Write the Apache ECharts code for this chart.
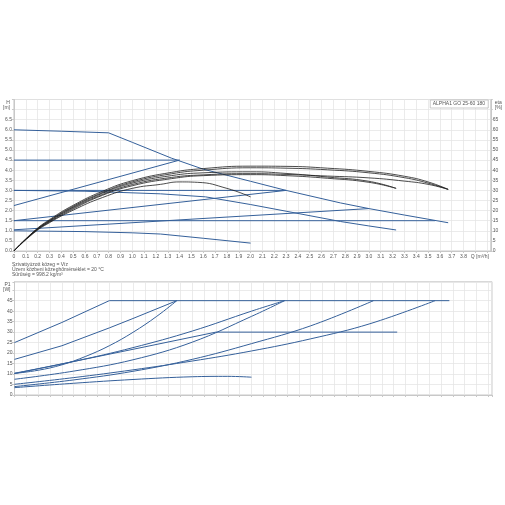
<!DOCTYPE html>
<html><head><meta charset="utf-8">
<script src="https://cdn.jsdelivr.net/npm/echarts@6/dist/echarts.min.js"></script>
<style>html,body{margin:0;padding:0;background:#fff}#c{width:505px;height:505px}</style>
</head><body><div id="c"></div><script>
// ---- Head curves H [m] vs Q [m3/h] ----
const H_MAX   = [[0,6.0],[0.4,5.93],[0.8,5.85],[1.0,5.38],[1.33,4.6],[1.6,4.05],[2.0,3.45],[2.3,3.0],[2.76,2.38],[3.0,2.1],[3.3,1.78],[3.67,1.4]];
const H_SPEED2 = [[0,3.0],[0.6,2.96],[1.24,2.83],[1.62,2.68],[2.0,2.3],[2.3,1.97],[2.76,1.46],[3.0,1.24],[3.23,1.04]];
const H_SPEED1 = [[0,1.0],[0.6,0.96],[1.0,0.9],[1.24,0.84],[1.6,0.63],[2.0,0.39]];
const H_CP3 = [[0,4.5],[1.4,4.5]];
const H_PP3 = [[0,2.25],[1.4,4.5]];
const H_CP2 = [[0,3.0],[2.3,3.0]];
const H_PP2 = [[0,1.5],[2.3,3.0]];
const H_CP1 = [[0,1.5],[3.56,1.5]];
const H_PP1 = [[0,1.05],[3.0,2.1]];
// ---- Efficiency curves eta [%] ----
const ETA_A = [[0,0],[0.17,9.8],[0.3,15.5],[0.5,22.6],[0.75,29.6],[1.0,34.8],[1.33,38.9],[1.6,40.8],[2.0,42],[2.3,41.9],[2.65,41],[3.0,39.4],[3.3,37],[3.5,34.2],[3.67,30.5]];
const ETA_B = [[0,0],[0.17,9.6],[0.3,15.1],[0.5,22.1],[0.75,29],[1.0,34.2],[1.33,38.2],[1.6,40],[2.0,41.2],[2.3,41],[2.65,40.2],[3.0,38.7],[3.3,36.3],[3.5,33.6],[3.67,30.5]];
const ETA_C = [[0,0],[0.17,9.4],[0.3,14.6],[0.5,21.3],[0.75,28],[1.0,32.9],[1.33,36.4],[1.6,37.7],[2.0,38.3],[2.3,37.9],[2.65,37.1],[3.0,36.2],[3.3,34.6],[3.5,33],[3.67,30.5]];
const ETA_D = [[0,0],[0.17,9.5],[0.3,14.9],[0.5,21.7],[0.75,28.6],[1.0,33.6],[1.33,37.3],[1.6,38.7],[2.0,39.2],[2.3,38.4],[2.65,36.6],[3.0,34.5],[3.23,31]];
const ETA_E = [[0,0],[0.17,9.3],[0.3,14.3],[0.5,20.8],[0.75,27.6],[1.0,32.3],[1.33,35.8],[1.6,37.3],[2.0,37.8],[2.3,37.3],[2.65,36],[3.0,34],[3.23,31]];
const ETA_F = [[0,0],[0.17,9.0],[0.3,14],[0.5,20.2],[0.75,26.5],[1.0,31],[1.24,33],[1.4,34.2],[1.55,34],[1.8,31],[2.0,26.8]];
// ---- Power curves P1 [W] ----
const P_MAX    = [[0,25],[0.4,34.6],[0.8,45],[3.67,45]];
const P_PP3    = [[0,17],[0.4,23.5],[0.8,32],[1.0,36.5],[1.37,45]];
const P_CP3    = [[0,10.3],[0.2,11.8],[0.4,14.4],[0.6,18.4],[0.8,23.5],[1.0,29.9],[1.2,37.5],[1.37,45]];
const P_SPEED2 = [[0,10.2],[1.0,21.8],[1.7,30],[3.23,30]];
const P_PP2    = [[0,10.4],[0.5,16],[1.0,22.6],[1.5,30.5],[2.0,40],[2.28,45]];
const P_CP2    = [[0,7.5],[0.5,11.4],[1.0,16.8],[1.5,25.2],[2.0,37.5],[2.28,45]];
const P_CP1    = [[0,5.1],[0.5,8.3],[1.0,12],[1.5,16.2],[2.0,21],[2.5,26.8],[3.0,34],[3.55,45]];
const P_PP1    = [[0,4.0],[0.5,7.2],[1.0,11.3],[1.5,17],[2.0,24.5],[2.5,33],[3.03,45]];
const P_SPEED1 = [[0,3.5],[0.5,5.6],[1.0,7.4],[1.5,8.7],[1.8,8.9],[2.0,8.5]];
// ---- Texts ----
const PRODUCT = 'ALPHA1 GO 25-60 180';
const INFO_LINES = ['Szivattyúzott közeg = Víz','Üzem közbeni közeghőmérséklet = 20 °C','Sűrűség = 998.2 kg/m³'];
const X_NAME = 'Q [m³/h]', H_NAME = 'H\n[m]', ETA_NAME = 'eta\n[%]', P_NAME = 'P1\n[W]';

const BLUE = '#35609a', BLACK = '#1e1e1e', TXT = '#555', GRIDC = '#e6e6e6', BORDER = '#c8c8c8';
const FONT = 'Liberation Sans, Arial, sans-serif';

function ln(data, xi, yi, color, w, smooth) {
  return {type:'line', data, xAxisIndex:xi, yAxisIndex:yi, symbol:'none', smooth: smooth||false,
    lineStyle:{color, width:w}, itemStyle:{color}, silent:true, animation:false};
}
const series = [];
[H_MAX,H_SPEED2,H_SPEED1,H_CP3,H_PP3,H_CP2,H_PP2,H_CP1,H_PP1].forEach(d=>series.push(ln(d,0,0,BLUE,1)));
[ETA_A,ETA_B,ETA_C,ETA_D,ETA_E,ETA_F].forEach(d=>series.push(ln(d,0,1,BLACK,0.8,true)));
const smoothP = [P_SPEED1,P_CP3,P_CP2,P_CP1,P_PP1,P_PP2];
[P_MAX,P_PP3,P_CP3,P_SPEED2,P_PP2,P_CP2,P_CP1,P_PP1,P_SPEED1].forEach(d=>series.push(ln(d,1,2,BLUE,1,smoothP.includes(d)?0.4:false)));

const lblStyle = {fontSize:5, color:TXT, fontFamily:FONT};
const xFmt = v => { if (Math.abs(v)<1e-9) return '0'; if (Math.abs(v-3.9)<1e-6) return '{q|'+X_NAME+'}'; if (v>3.85) return ''; return v.toFixed(1); };
function xAxis(gi, showLabels){
  return {gridIndex:gi, type:'value', min:0, max:4.03, interval:0.1,
    axisLine:{show:true, lineStyle:{color:BORDER}}, axisTick:{show:true, length:2, lineStyle:{color:BORDER}},
    axisLabel:Object.assign({show:showLabels, margin:3, formatter:xFmt, showMaxLabel:false,
      rich:{q:{fontSize:5, color:TXT, fontFamily:FONT, padding:[0,0,0,9]}}}, lblStyle),
    splitLine:{show:true, lineStyle:{color:GRIDC, width:0.8}}};
}
const option = {
  animation:false,
  textStyle:{fontFamily:FONT},
  title:{text:PRODUCT, right:17, top:100, padding:[1.5,3], borderColor:'#bbb', borderWidth:0.8, backgroundColor:'#fff',
    textStyle:{fontSize:5, fontWeight:'normal', color:TXT, fontFamily:FONT}},
  grid:[
    {left:12, top:99.5, width:480, height:151.5, show:true, borderColor:BORDER, borderWidth:1, backgroundColor:'transparent'},
    {left:12, top:281.8, width:480, height:113.2, show:true, borderColor:BORDER, borderWidth:1, backgroundColor:'transparent'}
  ],
  xAxis:[xAxis(0,true), xAxis(1,false)],
  yAxis:[
    {gridIndex:0, type:'value', min:0, max:7.5, interval:0.5, position:'left',
      name:H_NAME, nameLocation:'end', nameGap:0,
      nameTextStyle:{fontSize:5, color:TXT, align:'right', verticalAlign:'top', lineHeight:5.5, padding:[0,4,0,0]},
      axisLine:{show:true, lineStyle:{color:BORDER}}, axisTick:{show:true, length:2, lineStyle:{color:BORDER}},
      axisLabel:Object.assign({margin:2, formatter:v=> v>6.6?'':v.toFixed(1)}, lblStyle),
      splitLine:{show:true, lineStyle:{color:GRIDC, width:0.8}}},
    {gridIndex:0, type:'value', min:0, max:75, interval:5, position:'right',
      name:ETA_NAME, nameLocation:'end', nameGap:0,
      nameTextStyle:{fontSize:5, color:TXT, align:'left', verticalAlign:'top', lineHeight:5.5, padding:[0,0,0,4]},
      axisLine:{show:true, lineStyle:{color:BORDER}}, axisTick:{show:true, length:2, lineStyle:{color:BORDER}},
      axisLabel:Object.assign({margin:2, formatter:v=> v>66?'':String(v)}, lblStyle),
      splitLine:{show:false}},
    {gridIndex:1, type:'value', min:0, max:54, interval:5, position:'left',
      name:P_NAME, nameLocation:'end', nameGap:0,
      nameTextStyle:{fontSize:5, color:TXT, align:'right', verticalAlign:'top', lineHeight:5.5, padding:[0,4,0,0]},
      axisLine:{show:true, lineStyle:{color:BORDER}}, axisTick:{show:true, length:2, lineStyle:{color:BORDER}},
      axisLabel:Object.assign({margin:2, formatter:v=> (v>46 || v%5)?'':String(v)}, lblStyle),
      splitLine:{show:true, lineStyle:{color:GRIDC, width:0.8}}}
  ],
  graphic:[{type:'text', left:12, top:262.6, style:{text:INFO_LINES.join('\n'), fontSize:5, lineHeight:4.75, fill:TXT, fontFamily:FONT}}],
  series
};
const chart = echarts.init(document.getElementById('c'), null, {renderer:'canvas'});
chart.setOption(option);
</script></body></html>
